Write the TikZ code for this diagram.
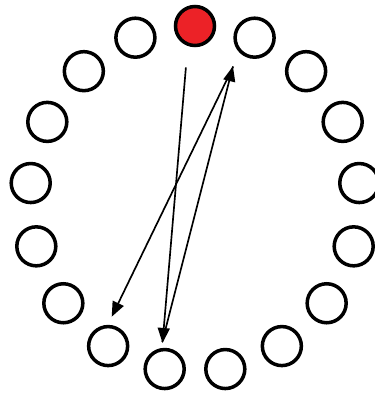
\documentclass[tikz,border=0pt]{standalone}
\usetikzlibrary{arrows.meta}
\definecolor{cred}{HTML}{EC2227}
\tikzset{
  seat/.style={circle, draw=black, fill=#1, line width=2pt, minimum size=0.78cm, inner sep=0pt},
  seat/.default=white,
  hop/.style={-{Triangle[length=3mm, width=2.4mm]}, draw=black, line width=0.95pt},
}

\begin{document}
\begin{tikzpicture}
  \useasboundingbox (-3.9,-3.92) rectangle (3.6,3.98);
  \def\Rx{3.3}
  \def\Ry{3.46}
  % 17 seats on the ring, c0 on top, counted clockwise
  \node[seat=cred] (c0) at (90:\Rx cm and \Ry cm) {};
  \foreach \i in {1,...,16} {
    \node[seat] (c\i) at ({90-360/17*\i}:\Rx cm and \Ry cm) {};
  }
  % the three hops
  \draw[hop, shorten <=0.43cm, shorten >=0.1cm] (c0.250) -- (c9.97);
  \draw[hop, shorten <=0.13cm, shorten >=0.34cm] (c9.101) -- (c1.215);
  \draw[hop, shorten <=0.3cm, shorten >=0.18cm] (c1.226) -- (c10.91);
\end{tikzpicture}
\end{document}
